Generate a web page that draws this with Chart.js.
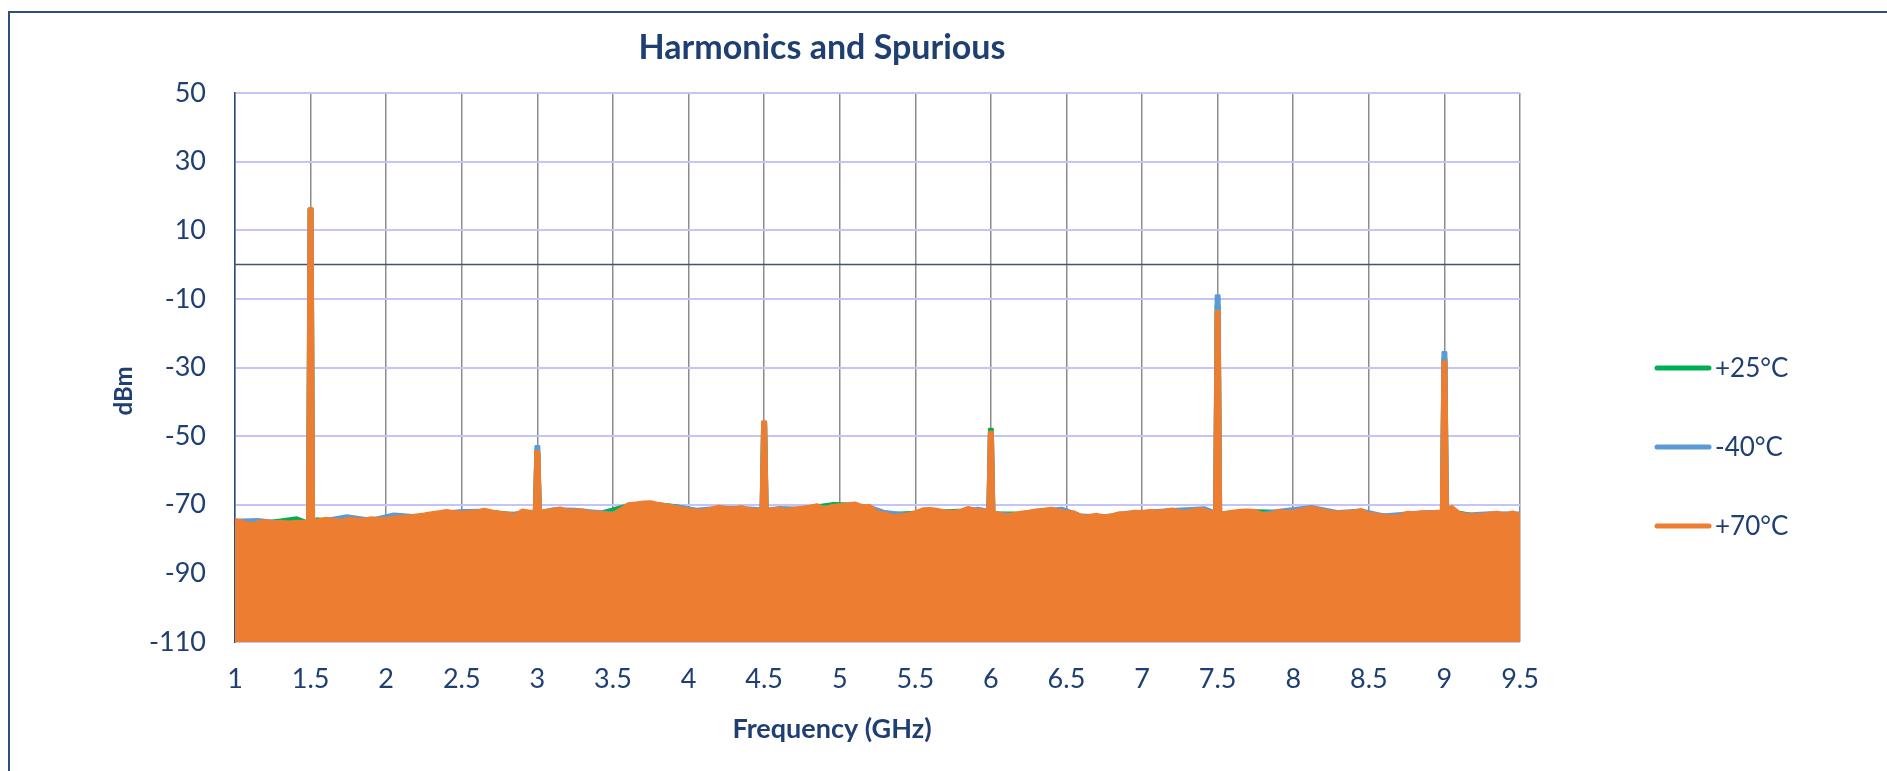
<!DOCTYPE html>
<html><head><meta charset="utf-8">
<script src="https://cdn.jsdelivr.net/npm/chart.js@4.4.1/dist/chart.umd.min.js"></script>
<style>
html,body{margin:0;padding:0;background:#fff;overflow:hidden;width:1887px;height:771px}
#wrap{position:absolute;left:0;top:0;width:1887px;height:771px}
#frame{position:absolute;left:8px;top:11px;width:1910px;height:820px;border:2px solid #2f4e7c;box-sizing:border-box;pointer-events:none}
</style></head><body>
<div id="wrap"><canvas id="c" width="1887" height="771"></canvas></div>
<div id="frame"></div>
<script>
// ---- data ----
const seriesNames = ['+25°C', '-40°C', '+70°C'];
const seriesColors = ['#00b050', '#5b9bd5', '#ed7d31'];

const xTickValues = [1,1.5,2,2.5,3,3.5,4,4.5,5,5.5,6,6.5,7,7.5,8,8.5,9,9.5];
const xTickLabels = ['1','1.5','2','2.5','3','3.5','4','4.5','5','5.5','6','6.5','7','7.5','8','8.5','9','9.5'];
const yTickValues = [-110,-90,-70,-50,-30,-10,10,30,50];
const yTickLabels = ['-110','-90','-70','-50','-30','-10','10','30','50'];

// +70°C
const freq70 = [1.00,1.05,1.10,1.15,1.20,1.25,1.30,1.35,1.40,1.45,1.48,1.49,1.51,1.52,1.55,1.60,1.65,1.70,1.75,1.80,1.85,1.90,1.95,
2.00,2.05,2.10,2.15,2.20,2.25,2.30,2.35,2.40,2.45,2.50,2.55,2.60,2.65,2.70,2.75,2.80,2.85,2.90,2.95,2.98,2.99,3.01,3.02,
3.05,3.10,3.15,3.20,3.25,3.30,3.35,3.40,3.45,3.50,3.55,3.60,3.65,3.70,3.75,3.80,3.85,3.90,3.95,
4.00,4.05,4.10,4.15,4.20,4.25,4.30,4.35,4.40,4.45,4.48,4.49,4.51,4.52,4.55,4.60,4.65,4.70,4.75,4.80,4.85,4.90,4.95,
5.00,5.05,5.10,5.15,5.20,5.25,5.30,5.35,5.40,5.45,5.50,5.55,5.60,5.65,5.70,5.75,5.80,5.85,5.90,5.95,5.98,5.99,6.01,6.02,
6.05,6.10,6.15,6.20,6.25,6.30,6.35,6.40,6.45,6.50,6.55,6.60,6.65,6.70,6.75,6.80,6.85,6.90,6.95,
7.00,7.05,7.10,7.15,7.20,7.25,7.30,7.35,7.40,7.45,7.48,7.49,7.51,7.52,7.55,7.60,7.65,7.70,7.75,7.80,7.85,7.90,7.95,
8.00,8.05,8.10,8.15,8.20,8.25,8.30,8.35,8.40,8.45,8.50,8.55,8.60,8.65,8.70,8.75,8.80,8.85,8.90,8.95,8.98,8.99,9.01,9.02,
9.05,9.10,9.15,9.20,9.25,9.30,9.35,9.40,9.45,9.50];
const dbm70 = [-74.3,-74.8,-75.6,-75.0,-74.6,-75.0,-74.8,-75.0,-74.9,-74.8,-74.9,16.3,16.3,-74.6,-74.4,-73.9,-74.2,-74.6,-73.9,-74.1,-74.2,-73.8,-74.0,
-74.0,-73.6,-73.4,-73.3,-73.0,-72.7,-72.3,-72.0,-71.7,-72.0,-72.2,-72.0,-71.8,-71.3,-71.8,-72.2,-72.5,-72.9,-71.5,-71.9,-71.8,-54.5,-54.5,-71.9,
-71.7,-71.4,-70.9,-71.6,-71.5,-71.5,-72.1,-72.1,-72.4,-72.6,-71.2,-69.7,-69.5,-69.2,-69.1,-69.6,-70.0,-70.4,-70.8,
-71.2,-71.6,-71.5,-71.0,-70.4,-70.8,-70.9,-70.5,-71.2,-71.4,-71.3,-45.8,-45.8,-71.3,-71.2,-71.0,-71.3,-71.0,-70.7,-70.4,-70.0,-70.9,-70.2,
-70.0,-69.8,-69.5,-70.3,-70.2,-72.1,-72.4,-73.1,-73.0,-72.6,-72.0,-71.2,-71.1,-71.4,-71.9,-71.9,-71.6,-70.8,-71.4,-71.5,-71.6,-48.9,-48.9,-72.2,
-72.4,-73.0,-72.6,-72.2,-71.9,-71.5,-71.3,-71.0,-71.6,-71.9,-72.1,-73.2,-73.1,-72.8,-73.2,-73.0,-72.3,-72.3,-71.9,
-72.0,-71.7,-71.9,-71.6,-71.2,-71.8,-71.9,-71.3,-71.2,-72.0,-72.1,-13.7,-13.7,-72.2,-72.3,-71.9,-71.6,-71.5,-71.7,-72.6,-72.5,-71.7,-71.9,
-71.8,-71.4,-70.8,-70.9,-71.5,-72.0,-72.2,-72.0,-71.9,-71.4,-72.5,-72.8,-73.1,-73.3,-73.1,-72.2,-72.3,-72.0,-72.2,-71.9,-71.9,-28.3,-28.3,-71.0,
-70.5,-72.3,-72.9,-72.8,-72.9,-72.5,-72.2,-72.8,-72.1,-72.9];

// -40°C
const freqM40 = [1.00,1.15,1.30,1.40,1.48,1.49,1.51,1.52,1.60,1.74,1.90,2.05,2.20,2.35,2.50,2.65,2.80,2.95,2.98,2.99,3.01,3.02,
3.10,3.25,3.40,3.50,3.65,3.80,3.95,4.05,4.20,4.35,4.48,4.49,4.51,4.52,4.60,4.75,4.90,5.05,5.20,5.30,5.45,5.60,5.75,5.915,5.98,5.99,6.01,6.02,
6.15,6.30,6.47,6.60,6.75,6.90,7.05,7.20,7.415,7.48,7.49,7.51,7.52,7.65,7.80,7.92,8.12,8.30,8.45,8.60,8.75,8.90,8.98,8.99,9.01,9.02,
9.15,9.30,9.50];
const dbmM40 = [-74.5,-74.3,-75.0,-75.1,-75.0,16.0,16.0,-74.8,-74.3,-73.2,-74.2,-72.7,-73.2,-72.3,-71.7,-71.6,-72.6,-72.0,-72.0,-53.0,-53.0,-72.0,
-71.2,-71.3,-72.0,-72.4,-69.6,-69.8,-70.5,-71.3,-70.7,-70.8,-71.2,-46.3,-46.3,-71.3,-70.8,-71.0,-70.6,-70.0,-70.5,-72.0,-72.8,-71.3,-72.1,-71.0,-71.6,-50.0,-50.0,-72.3,
-72.8,-71.6,-71.0,-73.0,-73.3,-72.2,-71.8,-71.4,-70.9,-72.0,-9.1,-9.1,-72.3,-71.8,-72.4,-71.5,-70.5,-72.0,-71.5,-73.0,-72.4,-72.0,-72.0,-25.6,-25.6,-71.8,
-72.7,-72.3,-72.4];

// +25°C
const freq25 = [1.00,1.077,1.20,1.41,1.48,1.49,1.51,1.52,1.54,1.70,1.90,2.10,2.30,2.50,2.70,2.863,2.98,2.99,3.01,3.02,
3.20,3.40,3.60,3.80,3.92,4.10,4.30,4.48,4.49,4.51,4.52,4.70,4.96,5.10,5.30,5.50,5.78,5.98,5.99,6.01,6.02,
6.20,6.40,6.60,6.80,7.00,7.20,7.48,7.49,7.51,7.52,7.70,7.90,8.10,8.30,8.50,8.70,8.90,8.98,8.99,9.01,9.02,9.20,9.50];
const dbm25 = [-74.9,-75.0,-75.0,-73.8,-75.0,16.2,16.2,-75.0,-74.1,-74.8,-74.3,-73.8,-72.6,-72.4,-72.0,-72.6,-72.0,-55.0,-55.0,-72.0,
-71.8,-72.4,-70.0,-69.7,-70.3,-71.8,-71.1,-71.5,-46.0,-46.0,-71.5,-71.2,-69.6,-69.8,-72.6,-72.2,-71.6,-71.8,-48.0,-48.0,-72.4,
-72.4,-71.3,-73.3,-73.2,-72.2,-71.5,-72.2,-12.0,-12.0,-72.4,-71.7,-71.9,-71.1,-72.4,-72.7,-73.3,-72.4,-72.1,-27.5,-27.5,-71.5,-73.0,-73.0];

// ---- chart ----
const TEXT = '#1f3f73';
const FONT = 'Lato, "Open Sans", sans-serif';
const pts = (xs, ys) => xs.map((x, i) => ({x: x, y: ys[i]}));

function ds(i, xs, ys, order) {
  return {
    label: seriesNames[i], data: pts(xs, ys),
    borderColor: seriesColors[i], backgroundColor: seriesColors[i],
    borderWidth: 3, pointRadius: 0, tension: 0, fill: 'start',
    borderJoinStyle: 'round', borderCapStyle: 'round', order: order
  };
}

const decor = {
  id: 'decor',
  beforeDatasetsDraw(chart) {
    const {ctx, chartArea: a, scales: {y}} = chart;
    const y0 = y.getPixelForValue(0);
    ctx.save();
    ctx.strokeStyle = '#44546a'; ctx.lineWidth = 1.5;
    ctx.beginPath(); ctx.moveTo(a.left, y0); ctx.lineTo(a.right, y0); ctx.stroke();
    ctx.restore();
  },
  afterDraw(chart) {
    const ctx = chart.ctx;
    ctx.save();
    ctx.fillStyle = TEXT; ctx.textAlign = 'center'; ctx.textBaseline = 'middle';
    ctx.font = 'bold 34px ' + FONT;
    ctx.fillText('Harmonics and Spurious', 822, 48);
    ctx.font = 'bold 27px ' + FONT;
    ctx.fillText('Frequency (GHz)', 832, 729);
    ctx.save();
    ctx.translate(124, 391); ctx.rotate(-Math.PI / 2);
    ctx.font = 'bold 24px ' + FONT;
    ctx.fillText('dBm', 0, 0);
    ctx.restore();
    // legend
    const ly = [368, 447, 526];
    ctx.textAlign = 'left'; ctx.font = '26px ' + FONT;
    for (let i = 0; i < 3; i++) {
      ctx.strokeStyle = seriesColors[i]; ctx.lineWidth = 5; ctx.lineCap = 'round';
      ctx.beginPath(); ctx.moveTo(1657, ly[i]); ctx.lineTo(1709, ly[i]); ctx.stroke();
      ctx.fillStyle = TEXT;
      ctx.fillText(seriesNames[i], 1715, ly[i] + 1);
    }
    ctx.restore();
  }
};

new Chart(document.getElementById('c'), {
  type: 'line',
  data: { datasets: [ ds(2, freq70, dbm70, 1), ds(1, freqM40, dbmM40, 2), ds(0, freq25, dbm25, 3) ] },
  options: {
    responsive: false, animation: false, devicePixelRatio: 1,
    layout: { padding: { top: 93, right: 367, left: 0, bottom: 0 } },
    plugins: { legend: { display: false }, title: { display: false }, tooltip: { enabled: false } },
    scales: {
      x: {
        type: 'linear', min: 1, max: 9.5,
        afterBuildTicks: s => { s.ticks = xTickValues.map(v => ({value: v})); },
        afterFit: s => { s.height = 129; },
        ticks: { callback: (v, i) => xTickLabels[i], color: TEXT, font: { family: FONT, size: 27 }, padding: 21, maxRotation: 0, autoSkip: false },
        grid: { color: '#8c8c8c', lineWidth: 1.5, drawTicks: false },
        border: { display: false }
      },
      y: {
        min: -110, max: 50,
        afterBuildTicks: s => { s.ticks = yTickValues.map(v => ({value: v})); },
        afterFit: s => { s.width = 235; },
        ticks: { callback: (v, i) => yTickLabels[i], color: TEXT, font: { family: FONT, size: 27 }, padding: 29 },
        grid: { color: '#c4c4f6', lineWidth: 2, drawTicks: false },
        border: { display: true, color: '#2f4e7c', width: 1.5 }
      }
    }
  },
  plugins: [decor]
});
</script>
</body></html>
